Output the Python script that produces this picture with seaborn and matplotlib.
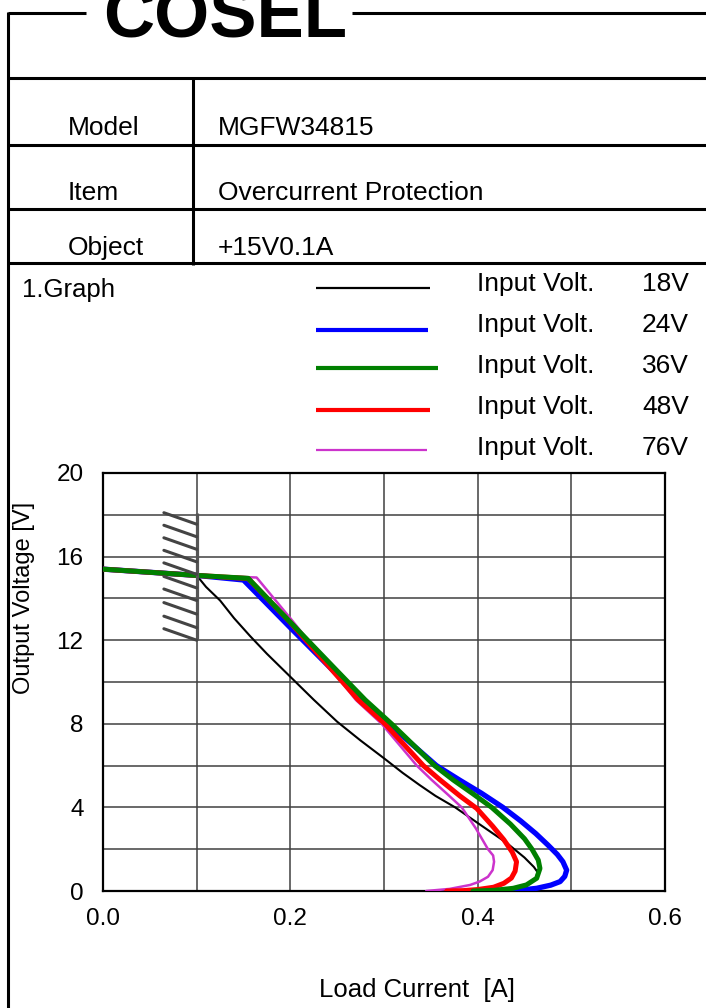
import numpy as np
import pandas as pd
import matplotlib
matplotlib.use("Agg")
import matplotlib.pyplot as plt
import seaborn as sns
from matplotlib.ticker import MultipleLocator

# ---------------- data ----------------
series_names = ["18V", "24V", "36V", "48V", "76V"]
legend_prefix = "Input Volt."

cur_18 = [0.0, 0.10, 0.11, 0.125, 0.14, 0.157, 0.175, 0.20, 0.225, 0.25, 0.275, 0.30, 0.32, 0.338, 0.355,
          0.376, 0.405, 0.431, 0.450, 0.460, 0.464, 0.462, 0.456, 0.448, 0.438, 0.420]
volt_18 = [15.4, 15.1, 14.55, 13.9, 13.05, 12.2, 11.35, 10.25, 9.15, 8.1, 7.2, 6.35, 5.65, 5.07, 4.55,
           4.0, 3.1, 2.3, 1.6, 1.15, 0.9, 0.62, 0.37, 0.22, 0.13, 0.02]

cur_24 = [0.0, 0.10, 0.150, 0.20, 0.25, 0.305, 0.356, 0.381, 0.404, 0.427, 0.446, 0.462, 0.475, 0.485,
          0.491, 0.495, 0.493, 0.488, 0.478, 0.463, 0.445, 0.434]
volt_24 = [15.4, 15.1, 14.88, 12.6, 10.35, 8.0, 6.0, 5.3, 4.68, 4.0, 3.35, 2.75, 2.2, 1.75,
           1.4, 1.0, 0.7, 0.45, 0.28, 0.13, 0.04, 0.0]

cur_36 = [0.0, 0.10, 0.155, 0.20, 0.25, 0.280, 0.308, 0.354, 0.374, 0.395, 0.415, 0.435, 0.450, 0.458,
          0.4647, 0.4665, 0.463, 0.452, 0.438, 0.417, 0.395]
volt_36 = [15.4, 15.1, 14.96, 12.86, 10.53, 9.14, 8.0, 6.0, 5.31, 4.65, 4.0, 3.2, 2.5, 2.0,
           1.48, 1.08, 0.61, 0.29, 0.13, 0.03, 0.0]

cur_48 = [0.0, 0.10, 0.155, 0.20, 0.2726, 0.301, 0.342, 0.360, 0.381, 0.399, 0.416, 0.428, 0.437,
          0.4415, 0.440, 0.436, 0.428, 0.417, 0.400, 0.385, 0.367]
volt_48 = [15.4, 15.1, 14.95, 12.85, 9.14, 8.0, 6.0, 5.31, 4.55, 3.95, 3.1, 2.45, 1.85,
           1.4, 0.95, 0.62, 0.37, 0.18, 0.07, 0.02, 0.0]

cur_76 = [0.0, 0.10, 0.164, 0.20, 0.235, 0.270, 0.2975, 0.335, 0.351, 0.368, 0.383, 0.398, 0.411,
          0.4165, 0.4175, 0.416, 0.411, 0.402, 0.392, 0.370, 0.345]
volt_76 = [15.4, 15.1, 15.0, 13.05, 11.1, 9.14, 8.0, 6.0, 5.31, 4.62, 4.0, 3.0, 2.0,
           1.7, 1.4, 1.0, 0.68, 0.45, 0.29, 0.1, 0.0]

x_ticks = [0.0, 0.2, 0.4, 0.6]
y_ticks = [0, 4, 8, 12, 16, 20]

# limit marker (hatched wall at 0.1 A)
wall_x = 0.1
wall_v = [12.0, 18.1]
hatch_v_left = [18.1, 17.5, 16.9, 16.3, 15.7, 15.05, 14.45, 13.8, 13.15, 12.55]
hatch_v_right = [17.55, 16.95, 16.35, 15.75, 15.15, 14.5, 13.9, 13.25, 12.6, 12.0]
hatch_x_left = 0.065

table_labels = ["Model", "Item", "Object"]
table_values = ["MGFW34815", "Overcurrent Protection", "+15V0.1A"]

# ---------------- styles ----------------
colors = {"18V": "#000000", "24V": "#0000ff", "36V": "#008000", "48V": "#ff0000", "76V": "#cc33cc"}
widths = {"18V": 1.5, "24V": 3.8, "36V": 3.6, "48V": 3.6, "76V": 1.8}
zorders = {"18V": 2, "24V": 3, "76V": 4, "48V": 5, "36V": 6}
legend_widths = {"18V": 1.6, "24V": 3.0, "36V": 3.0, "48V": 3.0, "76V": 1.6}

frames = []
for name, c, v in zip(series_names, [cur_18, cur_24, cur_36, cur_48, cur_76],
                      [volt_18, volt_24, volt_36, volt_48, volt_76]):
    frames.append(pd.DataFrame({"current": c, "voltage": v, "series": name}))
df = pd.concat(frames, ignore_index=True)

sns.set_theme(style="white")
plt.rcParams["font.family"] = ["Liberation Sans", "DejaVu Sans"]
plt.rcParams["text.color"] = "black"
plt.rcParams["axes.labelcolor"] = "black"
plt.rcParams["xtick.color"] = "black"
plt.rcParams["ytick.color"] = "black"

W, H = 706, 1008
fig = plt.figure(figsize=(W / 100, H / 100), dpi=100)

# overlay axes in pixel coordinates for frame / header / legend
ov = fig.add_axes([0, 0, 1, 1], zorder=0)
ov.set_xlim(0, W)
ov.set_ylim(H, 0)
ov.axis("off")
ov.patch.set_visible(False)

lw_frame = 2.2
ov.plot([8, 86], [13, 13], color="black", lw=lw_frame, solid_capstyle="butt")
ov.plot([352, W], [13, 13], color="black", lw=lw_frame, solid_capstyle="butt")
ov.plot([8, 8], [12, H], color="black", lw=lw_frame, solid_capstyle="butt")
for yy in [78, 145, 209, 263]:
    ov.plot([8, W], [yy, yy], color="black", lw=lw_frame, solid_capstyle="butt")
ov.plot([193, 193], [78, 265], color="black", lw=lw_frame, solid_capstyle="butt")

# logo (cut at the top edge as in the reference)
ov.text(225, 38, "COSEL", fontsize=51, fontweight="heavy", ha="center", va="baseline",
        color="black")

# table text
for lab, val, base in zip(table_labels, table_values, [135, 200, 255]):
    ov.text(68, base, lab, fontsize=19, ha="left", va="baseline")
    ov.text(218, base, val, fontsize=19, ha="left", va="baseline")

ov.text(22, 297, "1.Graph", fontsize=18.5, ha="left", va="baseline")

# legend
leg_line_y = [288, 330, 368, 410, 450]
leg_text_base = [291, 332, 373, 414, 455]
leg_line_end = [430, 428, 438, 430, 427]
for name, ly, tb, le in zip(series_names, leg_line_y, leg_text_base, leg_line_end):
    ov.plot([316, le], [ly, ly], color=colors[name], lw=legend_widths[name], solid_capstyle="butt")
    ov.text(477, tb, legend_prefix, fontsize=19, ha="left", va="baseline")
    ov.text(689, tb, name, fontsize=19, ha="right", va="baseline")

# main axes
left, right, top, bottom = 103, 665, 473, 891
ax = fig.add_axes([left / W, 1 - bottom / H, (right - left) / W, (bottom - top) / H], zorder=1)

for name in series_names:
    sub = df[df["series"] == name]
    sns.lineplot(data=sub, x="current", y="voltage", ax=ax, sort=False, estimator=None,
                 color=colors[name], linewidth=widths[name], zorder=zorders[name],
                 legend=False)

# hatched wall
ax.plot([wall_x, wall_x], wall_v, color="#555555", lw=2.3, zorder=7, solid_capstyle="butt")
for vl, vr in zip(hatch_v_left, hatch_v_right):
    ax.plot([hatch_x_left, wall_x], [vl, vr], color="#444444", lw=2.2, zorder=7)

ax.set_xlim(0, 0.6)
ax.set_ylim(0, 20)
ax.set_xticks(x_ticks)
ax.set_xticklabels([f"{t:.1f}" for t in x_ticks])
ax.set_yticks(y_ticks)
ax.set_yticklabels([str(t) for t in y_ticks])
ax.xaxis.set_minor_locator(MultipleLocator(0.1))
ax.yaxis.set_minor_locator(MultipleLocator(2))
ax.grid(True, which="both", color="#404040", linewidth=1.1)
ax.set_axisbelow(True)
ax.tick_params(axis="both", which="both", length=0, labelsize=17.5, colors="black")
ax.tick_params(axis="y", pad=14)
ax.tick_params(axis="x", pad=12)
for sp in ax.spines.values():
    sp.set_visible(True)
    sp.set_color("black")
    sp.set_linewidth(1.6)

ax.set_xlabel("Load Current  [A]", fontsize=18.5, color="black")
ax.set_ylabel("Output Voltage [V]", fontsize=17, color="black")
ax.xaxis.set_label_coords((417 - left) / (right - left), -(990 - bottom) / (bottom - top))
ax.xaxis.label.set_va("center")
ax.yaxis.set_label_coords((24 - left) / (right - left), (bottom - 597.5) / (bottom - top))
ax.yaxis.label.set_va("center")

fig.savefig("out.png", dpi=100)
